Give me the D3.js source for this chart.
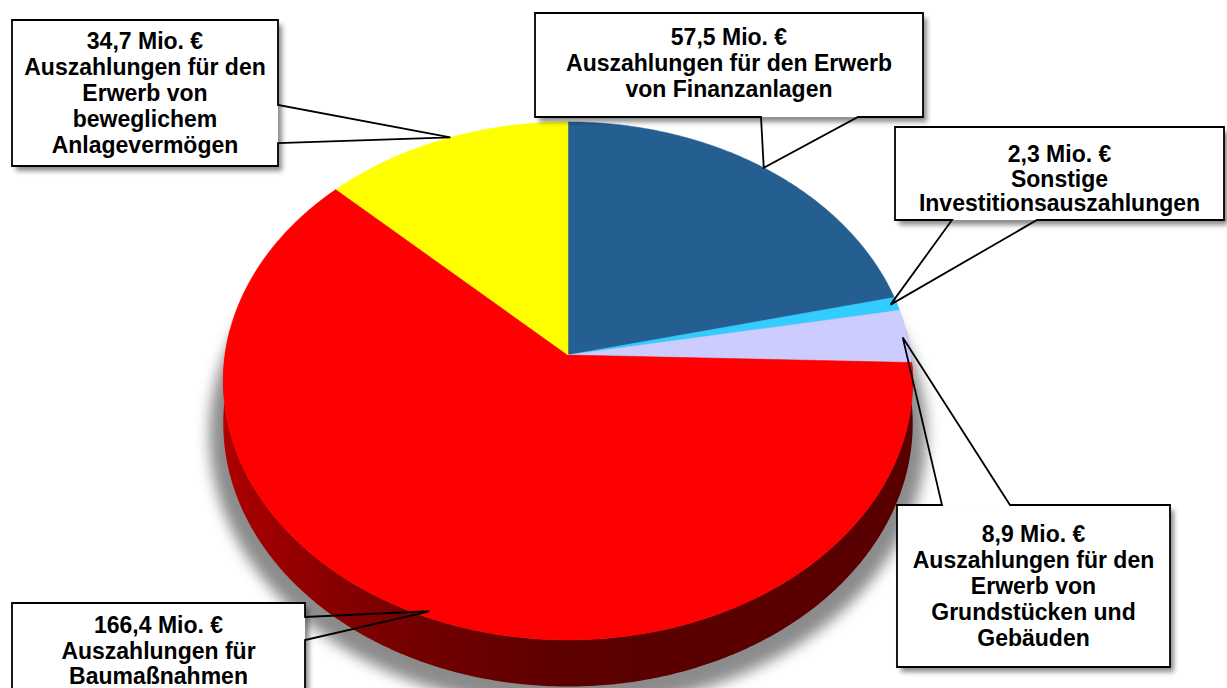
<!DOCTYPE html>
<html>
<head>
<meta charset="utf-8">
<script src="https://cdn.jsdelivr.net/npm/d3@7"></script>
<style>
  body { margin: 0; background: #fff; }
  svg { display: block; }
</style>
</head>
<body>
<svg id="chart" width="1227" height="688"></svg>
<script>
// data
const categories = [
    "Auszahlungen für den Erwerb von Finanzanlagen",
    "Sonstige Investitionsauszahlungen",
    "Auszahlungen für den Erwerb von Grundstücken und Gebäuden",
    "Auszahlungen für Baumaßnahmen",
    "Auszahlungen für den Erwerb von beweglichem Anlagevermögen"
];
const values = [57.5, 2.3, 8.9, 166.4, 34.7];
const unit = "Mio. €";
const colors = ["#255e91", "#33ccff", "#ccccff", "#ff0000", "#ffff00"];

// callout layout: box [x,y,w,h], which side the tail leaves, where it attaches,
// the angle (deg) / radius factor of the tip on the pie, text wrap (words per line)
const callouts = [
    {box: [535, 13, 388, 104], side: "bottom", attach: [761, 858], angle: 38, r: 1.0, base: 32, lh: 26, wrap: [4, 2]},
    {box: [895, 127, 329, 93], side: "bottom", attach: [952, 1037], angle: 78.2, r: 0.98, base: 35, lh: 24.5, wrap: [1, 1]},
    {box: [897, 505, 273, 162], side: "top", attach: [942, 1010], angle: 86, r: 0.985, base: 37, lh: 26, wrap: [3, 2, 2, 1]},
    {box: [12, 603, 293, 100], side: "right", attach: [617, 640], angle: 202, r: 0.98, base: 30, lh: 25.5, wrap: [2, 1]},
    {box: [12, 20, 266, 146], side: "right", attach: [105, 143], angle: 338, r: 1.0, base: 29, lh: 26, wrap: [3, 2, 1, 1]}
];

const svg = d3.select("#chart");
const locale = d3.formatLocale({decimal: ",", thousands: ".", grouping: [3], currency: ["", "€"]});
const fmt = locale.format(".1f");

// perspective disc: center of the pie, radii, perspective k, thickness
const cx = 568, cy = 355, rx = 343, ry = 256.4, k = 0.1, depth = 42;
const proj = (theta, z, r = 1) => {
    const u = r * Math.sin(theta), v = r * Math.cos(theta), w = 1 + k * v;
    return [cx + rx * u / w, cy - ry * v / w + z * depth / w];
};
const step = Math.PI / 360;
const arcPts = (a0, a1, z, r = 1) => {
    const n = Math.max(2, Math.ceil(Math.abs(a1 - a0) / step));
    return d3.range(n + 1).map(i => proj(a0 + (a1 - a0) * i / n, z, r));
};
const line = d3.line();

const arcs = d3.pie().sort(null).value(d => d)(values);

const defs = svg.append("defs");
const sh = defs.append("filter").attr("id", "pieShadow")
    .attr("x", "-20%").attr("y", "-20%").attr("width", "140%").attr("height", "140%");
sh.append("feGaussianBlur").attr("stdDeviation", 7);
const bs = defs.append("filter").attr("id", "boxShadow")
    .attr("x", "-10%").attr("y", "-10%").attr("width", "130%").attr("height", "130%");
bs.append("feDropShadow").attr("dx", 4).attr("dy", 5).attr("stdDeviation", 2.5)
    .attr("flood-color", "#000").attr("flood-opacity", 0.45);

// soft shadow under the disc
svg.append("path")
    .attr("d", line(arcPts(0, 2 * Math.PI, 1, 1.04)) + "Z")
    .attr("transform", "translate(0,9)")
    .attr("fill", "#777")
    .attr("opacity", 0.85)
    .attr("filter", "url(#pieShadow)");

// wall shading by angle (deg); gradient runs along x of the front edge
const shade = d3.scaleLinear().domain([90, 180, 205, 235, 270]).range([0.34, 0.36, 0.46, 0.62, 0.72]).clamp(true);
const xL = proj(-Math.PI / 2, 0)[0], xR = proj(Math.PI / 2, 0)[0];

const walls = svg.append("g");
arcs.forEach((d, i) => {
    const a0 = Math.max(d.startAngle, Math.PI / 2 - 0.1);
    const a1 = Math.min(d.endAngle, 3 * Math.PI / 2 + 0.1);
    if (a1 <= a0) return;
    const base = d3.rgb(colors[i]);
    const grad = defs.append("linearGradient").attr("id", "wall" + i)
        .attr("gradientUnits", "userSpaceOnUse")
        .attr("x1", xL).attr("x2", xR).attr("y1", 0).attr("y2", 0);
    d3.range(270, 89, -5).forEach(deg => {
        const f = shade(deg);
        const x = proj(deg * Math.PI / 180, 0)[0];
        grad.append("stop")
            .attr("offset", Math.max(0, Math.min(1, (x - xL) / (xR - xL))))
            .attr("stop-color", d3.rgb(base.r * f, base.g * f, base.b * f).toString());
    });
    const top = arcPts(a0, a1, 0), bottom = arcPts(a1, a0, 1);
    walls.append("path")
        .attr("d", line([...top, ...bottom]) + "Z")
        .attr("fill", `url(#wall${i})`);
});

// top faces
svg.append("g").selectAll("path")
    .data(arcs)
    .join("path")
    .attr("d", d => line([[cx, cy], ...arcPts(d.startAngle, d.endAngle, 0)]) + "Z")
    .attr("fill", (d, i) => colors[i])
    .attr("stroke", (d, i) => colors[i])
    .attr("stroke-width", 0.5);

// callouts
const labels = svg.append("g")
    .style("font", "bold 23px 'Liberation Sans', Arial, sans-serif");

callouts.forEach((c, i) => {
    const [x, y, w, h] = c.box;
    const tip = proj(c.angle * Math.PI / 180, 0, c.r);
    const [p, q] = c.attach;
    let d;
    if (c.side === "right") {
        d = `M${x},${y}H${x + w}V${p}L${tip}L${x + w},${q}V${y + h}H${x}Z`;
    } else if (c.side === "bottom") {
        d = `M${x},${y}H${x + w}V${y + h}H${q}L${tip}L${p},${y + h}H${x}Z`;
    } else {
        d = `M${x},${y}H${p}L${tip}L${q},${y}H${x + w}V${y + h}H${x}Z`;
    }
    const g = labels.append("g");
    g.append("rect")
        .attr("x", x).attr("y", y).attr("width", w).attr("height", h)
        .attr("fill", "#fff")
        .attr("filter", "url(#boxShadow)");
    g.append("path")
        .attr("d", d)
        .attr("fill", "none")
        .attr("stroke", "#000")
        .attr("stroke-width", 1.8)
        .attr("stroke-linejoin", "miter");

    // wrap the category name
    const words = categories[i].split(" ");
    const lines = [fmt(values[i]) + " " + unit];
    let pos = 0;
    c.wrap.forEach(n => { lines.push(words.slice(pos, pos + n).join(" ")); pos += n; });

    g.selectAll("text")
        .data(lines)
        .join("text")
        .attr("x", x + w / 2)
        .attr("y", (t, j) => y + c.base + j * c.lh)
        .attr("text-anchor", "middle")
        .attr("fill", "#000")
        .text(t => t);
});
</script>
</body>
</html>
